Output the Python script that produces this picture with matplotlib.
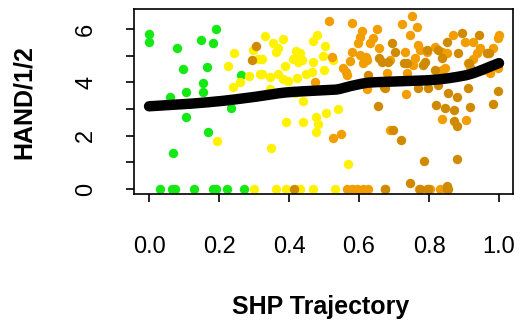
import numpy as np
import matplotlib
matplotlib.use("Agg")
import matplotlib.pyplot as plt

plt.rcParams['font.family'] = ['Liberation Sans', 'DejaVu Sans']

# Green group
green_x = [0.0, 0.0, 0.08, 0.19, 0.148, 0.184, 0.098, 0.166, 0.153, 0.153, 0.106, 0.06,
           0.106, 0.234, 0.264, 0.168, 0.069,
           0.031, 0.065, 0.074, 0.129, 0.184, 0.191, 0.224, 0.272]
green_y = [5.8, 5.53, 5.3, 6.0, 5.6, 5.49, 4.49, 4.59, 3.96, 3.65, 3.65, 3.44,
           2.71, 3.05, 4.27, 2.15, 1.35,
           0, 0, 0, 0, 0, 0, 0, 0]

# Yellow group
yellow_x = [0.244, 0.225, 0.298, 0.239, 0.26, 0.287, 0.317, 0.31, 0.193,
            0.331, 0.382, 0.353, 0.363, 0.369, 0.322, 0.42, 0.431, 0.422, 0.412, 0.436,
            0.427, 0.468, 0.479, 0.468, 0.503, 0.496, 0.389, 0.322, 0.346, 0.369,
            0.382, 0.398, 0.422, 0.449, 0.465, 0.501, 0.527, 0.346, 0.417, 0.441,
            0.506, 0.541, 0.477, 0.391, 0.441, 0.482, 0.477, 0.348, 0.568,
            0.301, 0.362, 0.39, 0.425, 0.468, 0.531, 0.431]
yellow_y = [5.11, 4.61, 5.21, 3.81, 4.02, 4.24, 4.31, 4.86, 1.8,
            5.74, 5.64, 5.46, 5.15, 5.3, 4.86, 5.19, 5.09, 4.96, 4.86, 4.84,
            4.77, 4.76, 5.77, 5.56, 5.36, 4.99, 4.61, 4.31, 4.21, 4.31,
            4.11, 4.05, 4.15, 4.31, 4.4, 4.46, 4.84, 3.74, 3.61, 3.3,
            2.84, 2.99, 2.71, 2.5, 2.52, 2.44, 2.15, 1.54, 0.93,
            0, 0, 0, 0, 0, 0, 0]

# Orange group
orange_x = [0.515, 0.579, 0.652, 0.608, 0.603, 0.641, 0.631, 0.598, 0.658, 0.579,
            0.603, 0.62, 0.574, 0.612, 0.622, 0.522, 0.555, 0.563, 0.567, 0.474,
            0.622, 0.527, 0.548, 0.689,
            0.752, 0.722, 0.767, 0.746, 0.869, 0.903, 1.0, 0.998, 0.768, 0.774,
            0.731, 0.793, 0.817, 0.836, 0.85, 0.927, 0.946, 0.936, 0.984, 0.76,
            0.689, 0.679, 0.736, 0.755, 0.836, 0.846, 0.912, 0.917, 0.927, 0.955,
            0.974, 0.998, 0.734, 0.906, 0.836,
            0.565, 0.579, 0.593, 0.612, 0.626, 0.674, 0.772, 0.831, 0.793, 0.803]
orange_y = [6.31, 6.21, 6.0, 5.94, 5.71, 5.65, 5.49, 5.46, 5.28, 5.15,
            5.02, 4.94, 4.81, 4.74, 4.84, 4.94, 4.53, 4.4, 4.27, 4.02,
            3.74, 1.9, 2.06, 2.21,
            6.5, 6.17, 6.09, 5.77, 5.77, 5.53, 5.77, 5.65, 5.4, 5.21,
            5.15, 5.15, 5.34, 5.15, 5.09, 5.53, 5.28, 5.09, 5.28, 4.9,
            4.84, 4.34, 4.36, 4.65, 4.46, 4.53, 4.71, 4.59, 4.86, 4.46,
            4.34, 4.53, 3.56, 2.59, 2.61,
            0, 0, 0, 0, 0, 0, 0, 0, 0, 0]

# Dark orange group
dark_x = [0.306, 0.295, 0.415, 0.655, 0.658, 0.627, 0.672, 0.684,
          0.746, 0.787, 0.879, 0.736, 0.784, 0.817, 0.965,
          0.693, 0.703, 0.665, 0.729, 0.789, 0.793, 0.827, 0.836, 0.85, 0.884,
          0.893, 0.944, 0.97, 0.915, 0.674, 0.769, 0.798, 0.827, 0.855, 0.879,
          0.912, 0.998, 0.819, 0.846, 0.871, 0.917, 0.982, 0.87, 0.881, 0.698,
          0.72, 0.85,
          0.796, 0.853, 0.674, 0.774, 0.85]
dark_y = [5.37, 4.84, 0, 3.11, 4.9, 4.27, 3.81, 4.77,
          0.24, 1.06, 1.11, 4.71, 4.65, 4.46, 5.09,
          5.49, 5.15, 4.77, 4.71, 4.77, 5.21, 5.21, 4.9, 5.53, 5.09,
          5.84, 5.77, 5.09, 4.71, 3.78, 3.78, 3.78, 3.9, 3.61, 3.44,
          3.78, 3.69, 3.15, 3.03, 2.96, 3.06, 3.18, 2.56, 2.36, 2.21,
          1.84, 0.12,
          0, 0, 0, 0, 0]

# Smoothed trend
trend_x = [0.0, 0.1, 0.2, 0.3, 0.4, 0.5, 0.53, 0.58, 0.63, 0.7, 0.8, 0.9, 1.0]
trend_y = [3.10, 3.18, 3.29, 3.45, 3.63, 3.70, 3.72, 3.87, 3.99, 4.03, 4.08, 4.25, 4.72]

xticks = [0.0, 0.2, 0.4, 0.6, 0.8, 1.0]
xtick_labels = ['0.0', '0.2', '0.4', '0.6', '0.8', '1.0']
yticks = [0, 1, 2, 3, 4, 5, 6]
ytick_labels = ['0', '', '2', '', '4', '', '6']

fig = plt.figure(figsize=(5.22, 3.27), dpi=100)
ax = fig.add_axes([0.2567, 0.4067, 0.7261, 0.5658])

ms = 46
ax.scatter(green_x, green_y, s=ms, color='#15E815', lw=0, zorder=2)
ax.scatter(yellow_x, yellow_y, s=ms, color='#FFF200', lw=0, zorder=2)
ax.scatter(orange_x, orange_y, s=ms, color='#F29E00', lw=0, zorder=2)
ax.scatter(dark_x, dark_y, s=ms, color='#D08A00', lw=0, zorder=2)

# Monotone cubic (PCHIP-style) curve through the trend points
tx = np.array(trend_x)
ty = np.array(trend_y)
xs = np.linspace(0, 1, 300)
h = np.diff(tx)
d = np.diff(ty) / h
m = np.zeros_like(ty)
m[0], m[-1] = d[0], d[-1]
for i in range(1, len(tx) - 1):
    if d[i - 1] * d[i] > 0:
        w1 = 2 * h[i] + h[i - 1]
        w2 = h[i] + 2 * h[i - 1]
        m[i] = (w1 + w2) / (w1 / d[i - 1] + w2 / d[i])
idx = np.clip(np.searchsorted(tx, xs) - 1, 0, len(tx) - 2)
t = (xs - tx[idx]) / h[idx]
h00 = 2 * t**3 - 3 * t**2 + 1
h10 = t**3 - 2 * t**2 + t
h01 = -2 * t**3 + 3 * t**2
h11 = t**3 - t**2
ys = h00 * ty[idx] + h10 * h[idx] * m[idx] + h01 * ty[idx + 1] + h11 * h[idx] * m[idx + 1]
ax.plot(xs, ys, color='black', lw=7.5, solid_capstyle='round', zorder=3)

ax.set_xlim(-0.043, 1.04)
ax.set_ylim(-0.19, 6.75)
ax.set_xticks(xticks)
ax.set_xticklabels(xtick_labels)
ax.set_yticks(yticks)
ax.set_yticklabels(ytick_labels, rotation=90, va='center')
for sp in ax.spines.values():
    sp.set_linewidth(1.2)
ax.tick_params(axis='both', length=6, width=1.2, labelsize=17, color='black')
ax.tick_params(axis='x', pad=24)
ax.tick_params(axis='y', pad=20.5)

fig.text(0.615, 0.061, 'SHP Trajectory', ha='center', va='center',
         fontsize=18, fontweight='bold')
fig.text(0.046, 0.688, 'HAND/1/2', ha='center', va='center', rotation=90,
         fontsize=18, fontweight='bold')

fig.savefig('out.png', dpi=100)
